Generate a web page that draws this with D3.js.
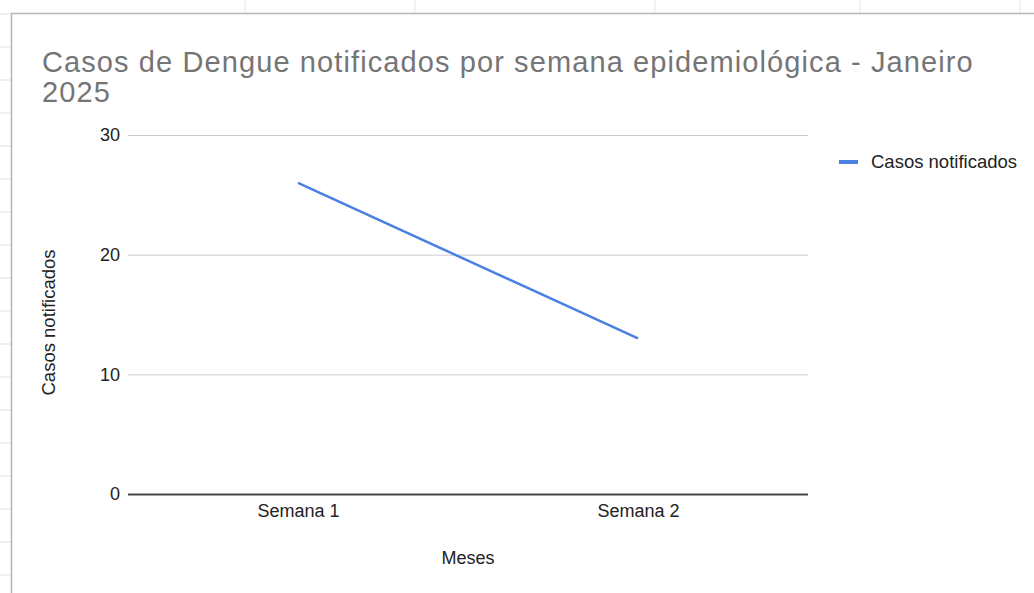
<!DOCTYPE html>
<html>
  <head>
    <meta charset='utf-8' />
    <title>Casos de Dengue</title>
    <style>
      body {
        margin: 0;
        background-color: white;
      }
      #chart text {
        font-family: "Liberation Sans", Arial, sans-serif;
      }
    </style>
  </head>
<body>
  <svg id="chart" width="1034" height="593"></svg>

  <script src="https://d3js.org/d3.v7.min.js"></script>
  <script>
    // data
    const semanas = ["Semana 1", "Semana 2"];
    const casos = [26, 13];
    const yTicks = [0, 10, 20, 30];
    const serieNome = "Casos notificados";

    const width = 1034;
    const height = 593;
    const plotLeft = 128, plotRight = 808, plotTop = 135, plotBottom = 494;

    const svg = d3.select("#chart");

    // spreadsheet cells behind the chart
    const sheet = svg.append("g").attr("id", "sheet");
    [245, 415, 655, 860, 1020].forEach(x => {
      sheet.append("line")
        .attr("x1", x).attr("x2", x)
        .attr("y1", 0).attr("y2", 13)
        .attr("stroke", "#e6e6e6");
    });
    for (let y = 14; y < height; y += 33) {
      sheet.append("line")
        .attr("x1", 0).attr("x2", 11)
        .attr("y1", y).attr("y2", y)
        .attr("stroke", "#e0e0e0");
    }
    sheet.append("line")
      .attr("x1", 11).attr("x2", width)
      .attr("y1", 13.5).attr("y2", 13.5)
      .attr("stroke", "#b5b5b5")
      .attr("stroke-width", 1.5);
    sheet.append("line")
      .attr("x1", 11.5).attr("x2", 11.5)
      .attr("y1", 13).attr("y2", height)
      .attr("stroke", "#b5b5b5")
      .attr("stroke-width", 1.5);

    const xScale = d3.scalePoint()
                     .domain(semanas)
                     .range([plotLeft, plotRight])
                     .padding(0.5);

    const yScale = d3.scaleLinear()
                     .domain([0, 30])
                     .range([plotBottom, plotTop]);

    // gridlines + y labels
    const yAxis = d3.axisLeft(yScale)
                    .tickValues(yTicks)
                    .tickSize(-(plotRight - plotLeft))
                    .tickPadding(8);

    const gy = svg.append("g")
      .attr("transform", "translate(" + plotLeft + ",0)")
      .call(yAxis);
    gy.select(".domain").remove();
    gy.selectAll(".tick line")
      .attr("stroke", "#cccccc")
      .attr("x1", 0)
      .attr("x2", plotRight - plotLeft);
    gy.selectAll(".tick text")
      .attr("x", -8)
      .attr("fill", "#222")
      .style("font-size", "18px");
    // zero line
    gy.selectAll(".tick").filter(d => d == 0).select("line")
      .attr("stroke", "#444")
      .attr("stroke-width", 2);

    // x labels
    const xAxis = d3.axisBottom(xScale).tickSize(0).tickPadding(10);
    const gx = svg.append("g")
      .attr("transform", "translate(0," + plotBottom + ")")
      .call(xAxis);
    gx.select(".domain").remove();
    gx.selectAll(".tick text")
      .attr("fill", "#222")
      .style("font-size", "18px");

    // the series
    const line = d3.line()
                   .x((d, i) => xScale(semanas[i]))
                   .y(d => yScale(d));

    svg.append("path")
      .datum(casos)
      .attr("d", line)
      .attr("fill", "none")
      .attr("stroke", "#4a80e4")
      .attr("stroke-width", 2.5);

    // title, two lines as in the picture
    const titleLines = ["Casos de Dengue notificados por semana epidemiológica - Janeiro", "2025"];
    svg.append("g").attr("id", "title")
      .selectAll("text")
      .data(titleLines)
      .enter()
      .append("text")
      .attr("x", 42)
      .attr("y", (d, i) => 72 + i * 30)
      .attr("fill", "#757575")
      .style("font-size", "29px")
      .style("letter-spacing", "1.1px")
      .text(d => d);

    // axis titles
    svg.append("text")
      .attr("x", (plotLeft + plotRight) / 2)
      .attr("y", 564)
      .attr("text-anchor", "middle")
      .attr("fill", "#222")
      .style("font-size", "18px")
      .text("Meses");

    svg.append("text")
      .attr("transform", "translate(55," + ((plotTop + plotBottom) / 2 + 8) + ") rotate(-90)")
      .attr("text-anchor", "middle")
      .attr("fill", "#222")
      .style("font-size", "18.5px")
      .text(serieNome);

    // legend
    const legend = svg.append("g").attr("id", "legend");
    legend.append("line")
      .attr("x1", 839).attr("x2", 858)
      .attr("y1", 162).attr("y2", 162)
      .attr("stroke", "#4a80e4")
      .attr("stroke-width", 4);
    legend.append("text")
      .attr("x", 871)
      .attr("y", 168)
      .attr("fill", "#222")
      .style("font-size", "18.5px")
      .text(serieNome);
  </script>
</body>
</html>
